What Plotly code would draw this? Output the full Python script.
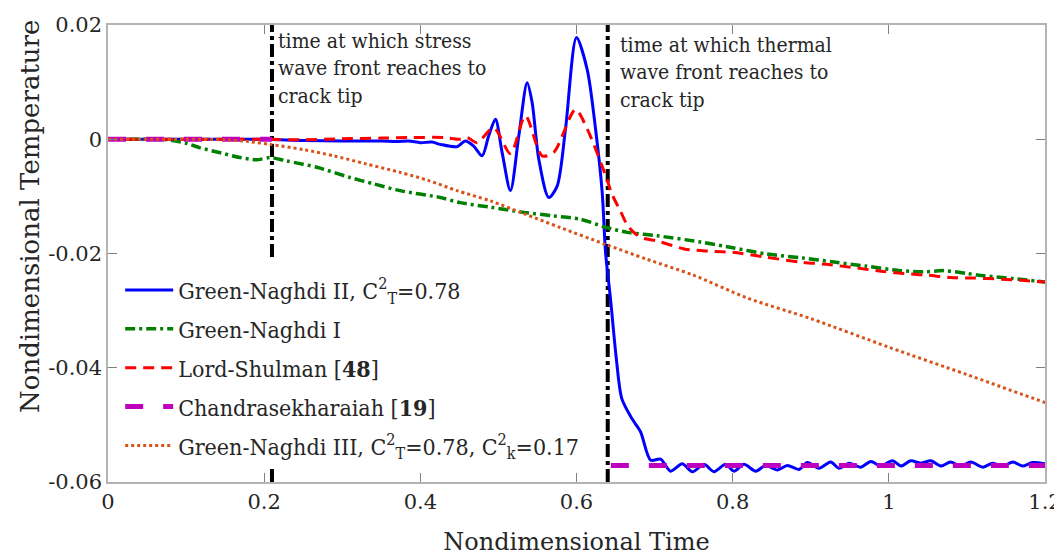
import plotly.graph_objects as go

# ---------------- data ----------------
gn2_t = [0, 0.05, 0.10, 0.15, 0.20, 0.25, 0.30, 0.35, 0.37, 0.385, 0.40, 0.415, 0.4256, 0.447,
         0.4577, 0.4684, 0.4791, 0.4876, 0.4962, 0.5047, 0.5154, 0.5261, 0.5368, 0.5432, 0.5517,
         0.5645, 0.5752, 0.5859, 0.600, 0.6137, 0.6244, 0.6329, 0.6372, 0.6436, 0.651, 0.658,
         0.671, 0.682, 0.695, 0.7077, 0.7205, 0.7355, 0.7483, 0.7632, 0.7761, 0.791, 0.8017,
         0.8145, 0.8295, 0.8423, 0.8573, 0.870, 0.885, 0.8957, 0.9107, 0.9256, 0.9363, 0.9491,
         0.964, 0.977, 0.9897, 1.0047, 1.0154, 1.028, 1.041, 1.054, 1.067, 1.079, 1.092, 1.105,
         1.120, 1.133, 1.146, 1.159, 1.171, 1.184, 1.2]
gn2_T = [0, 0, 0, 0, 0, -0.0002, -0.0003, -0.0003, -0.0004, -0.0003, -0.0006, -0.0005, -0.0009, -0.0013,
         -0.0003, -0.0012, -0.0029, 0.0006, 0.0035, -0.0023, -0.0090, 0.0006, 0.0099, 0.0064, -0.0035,
         -0.0102, -0.0082, 0.0018, 0.0178, 0.0122, 0.0018, -0.0093, -0.0198, -0.0280, -0.0384, -0.0454,
         -0.0489, -0.0512, -0.0562, -0.0560, -0.0581, -0.0568, -0.0582, -0.0569, -0.0582, -0.0569, -0.0581,
         -0.0569, -0.0581, -0.0571, -0.0579, -0.0571, -0.0578, -0.0566, -0.0576, -0.0565, -0.0576, -0.0567,
         -0.0574, -0.0564, -0.0572, -0.0563, -0.0572, -0.0563, -0.0567, -0.0563, -0.0572, -0.0565, -0.0572, -0.0565,
         -0.0574, -0.0567, -0.0572, -0.0565, -0.0572, -0.0566, -0.0568]

gn1_t = [0, 0.05, 0.075, 0.10, 0.118, 0.145, 0.169, 0.1906, 0.2077, 0.229, 0.2675, 0.31, 0.34, 0.374,
         0.4256, 0.451, 0.49, 0.5323, 0.57, 0.605, 0.6372, 0.665, 0.7034, 0.759, 0.80, 0.844, 0.89,
         0.93, 0.97, 1.015, 1.045, 1.071, 1.10, 1.122, 1.16, 1.2]
gn1_T = [0, 0, -0.0001, -0.0007, -0.0015, -0.0024, -0.0032, -0.0036, -0.0032, -0.0038, -0.0049, -0.0067,
         -0.0078, -0.0090, -0.0102, -0.0111, -0.0119, -0.0128, -0.0134, -0.0140, -0.0154, -0.0163, -0.0169,
         -0.0180, -0.0190, -0.0201, -0.0208, -0.0215, -0.0222, -0.0230, -0.0232, -0.0230, -0.0235, -0.0239,
         -0.0244, -0.0250]

ls_t = [0, 0.1, 0.2, 0.25, 0.3, 0.35, 0.39, 0.43, 0.45, 0.46, 0.4726, 0.494, 0.5154, 0.5346, 0.5559,
        0.5709, 0.5987, 0.6137, 0.639, 0.645, 0.656, 0.665, 0.675, 0.685, 0.703, 0.738, 0.77, 0.80,
        0.84, 0.887, 0.92, 0.951, 0.99, 1.028, 1.05, 1.079, 1.11, 1.144, 1.17, 1.2]
ls_T = [0, 0, 0, -0.0001, 0.0001, 0.0002, 0.0003, 0.0003, 0.0000, 0.0003, -0.0006, 0.0020, -0.0025, 0.0041,
        -0.0029, -0.0023, 0.0052, 0.0018, -0.0070, -0.0095, -0.0125, -0.0150, -0.0165, -0.0173, -0.0178,
        -0.0192, -0.0196, -0.0198, -0.0206, -0.0215, -0.0219, -0.0224, -0.0231, -0.0236, -0.0238, -0.0242,
        -0.0243, -0.0245, -0.0247, -0.0250]

ch_t = [0, 0.21, None, 0.644, 1.2]
ch_T = [0, 0, None, -0.0571, -0.0571]

gn3_t = [0, 0.1, 0.15, 0.18, 0.2077, 0.25, 0.289, 0.33, 0.374, 0.41, 0.447, 0.49, 0.532, 0.58, 0.637,
         0.69, 0.75, 0.819, 0.9, 1.0, 1.1, 1.2]
gn3_T = [0, 0, -0.0001, -0.0004, -0.0009, -0.0018, -0.0029, -0.0043, -0.0058, -0.0072, -0.0090, -0.0108,
         -0.0130, -0.0155, -0.0184, -0.0210, -0.0238, -0.0278, -0.0314, -0.0364, -0.0412, -0.0461]

front_times = [0.21, 0.64]
y_range = [-0.06, 0.02]
x_ticks = [0, 0.2, 0.4, 0.6, 0.8, 1.0, 1.2]
x_ticklabels = ["0", "0.2", "0.4", "0.6", "0.8", "1", "1.2"]
y_ticks = [-0.06, -0.04, -0.02, 0, 0.02]
y_ticklabels = ["-0.06", "-0.04", "-0.02", "0", "0.02"]

names = [
    "Green-Naghdi II, C<sup>2</sup><sub>T</sub>=0.78",
    "Green-Naghdi I",
    "Lord-Shulman [<b>48</b>]",
    "Chandrasekharaiah [<b>19</b>]",
    "Green-Naghdi III, C<sup>2</sup><sub>T</sub>=0.78, C<sup>2</sup><sub>k</sub>=0.17",
]
notes = ["time at which stress<br>wave front reaches to<br>crack tip",
         "time at which thermal<br>wave front reaches to<br>crack tip"]
x_title = "Nondimensional Time"
y_title = "Nondimensional Temperature"

COND = "DejaVu Serif Condensed, DejaVu Serif, Liberation Serif, serif"
NORM = "DejaVu Serif, Liberation Serif, serif"
TXT = "#262626"

fig = go.Figure()

for ft in front_times:
    fig.add_trace(go.Scatter(x=[ft, ft], y=y_range, mode="lines", showlegend=False,
                             line=dict(color="black", width=4, dash="13px,4px,4px,4px"),
                             hoverinfo="skip"))

fig.add_trace(go.Scatter(x=gn2_t, y=gn2_T, mode="lines", name=names[0], legendgroup="g1",
                         line=dict(color="#0000FF", width=3, shape="spline", smoothing=0.8)))
fig.add_trace(go.Scatter(x=gn1_t, y=gn1_T, mode="lines", name=names[1], legendgroup="g2",
                         line=dict(color="#008000", width=3.5, dash="10px,4px,3px,4px",
                                   shape="spline", smoothing=0.8)))
fig.add_trace(go.Scatter(x=ls_t, y=ls_T, mode="lines", name=names[2], legendgroup="g3",
                         line=dict(color="#FF0000", width=3, dash="11px,7px",
                                   shape="spline", smoothing=0.8)))
fig.add_trace(go.Scatter(x=ch_t, y=ch_T, mode="lines", name=names[3], legendgroup="g4",
                         connectgaps=False,
                         line=dict(color="#BF00BF", width=5, dash="18px,20px")))
fig.add_trace(go.Scatter(x=gn3_t, y=gn3_T, mode="lines", name=names[4], legendgroup="g5",
                         line=dict(color="#D95319", width=3, dash="3px,3px",
                                   shape="spline", smoothing=0.8)))

fig.add_annotation(x=front_times[0], y=0.02, xref="x", yref="y", text=notes[0], showarrow=False,
                   xanchor="left", yanchor="top", xshift=4, yshift=-2, align="left",
                   font=dict(family=COND, size=21, color=TXT))
fig.add_annotation(x=front_times[1], y=0.02, xref="x", yref="y", text=notes[1], showarrow=False,
                   xanchor="left", yanchor="top", xshift=10, yshift=-6, align="left",
                   font=dict(family=COND, size=21, color=TXT))
fig.add_annotation(x=0, y=0.58, xref="paper", yref="paper", text=y_title, showarrow=False,
                   textangle=-90, xanchor="center", yanchor="middle", xshift=-78,
                   font=dict(family=NORM, size=26, color=TXT))

axis_common = dict(showline=True, linecolor="#b4b4b4", linewidth=1.5, mirror="ticks",
                   ticks="inside", ticklen=9, tickcolor="#808080", tickwidth=1,
                   showgrid=False, zeroline=False, automargin=False,
                   tickfont=dict(family=NORM, size=21, color=TXT))

fig.update_xaxes(range=[0, 1.2], tickvals=x_ticks, ticktext=x_ticklabels,
                 title=dict(text=x_title, font=dict(family=NORM, size=24, color=TXT),
                            standoff=21),
                 **axis_common)
fig.update_yaxes(range=y_range, tickvals=y_ticks, ticktext=y_ticklabels, **axis_common)

fig.update_layout(
    width=1054, height=548,
    margin=dict(l=100, r=17, t=17, b=74),
    paper_bgcolor="white", plot_bgcolor="white",
    showlegend=True,
    legend=dict(x=0.013, y=0.49, xanchor="left", yanchor="top",
                bgcolor="white", borderwidth=0, itemwidth=48,
                title=dict(text="&nbsp;", font=dict(size=8)),
                font=dict(family=COND, size=23, color=TXT),
                tracegroupgap=6),
)

fig.write_html("out.html")
